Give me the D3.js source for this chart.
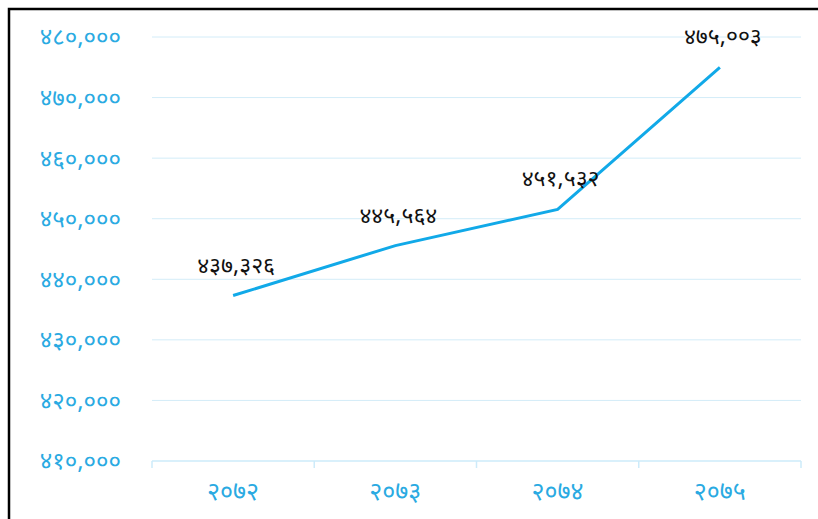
<!DOCTYPE html>
<html><head><meta charset="utf-8">
<script src="https://cdn.jsdelivr.net/npm/d3@7"></script>
<style>
html,body{margin:0;padding:0;background:#fff;}
svg{display:block;font-family:"Noto Sans","Noto Sans Devanagari",sans-serif;}
</style></head>
<body>
<svg id="chart" width="818" height="519"></svg>
<script>
const years = [2072, 2073, 2074, 2075];
const values = [437326, 445564, 451532, 475003];
const yTicks = [410000, 420000, 430000, 440000, 450000, 460000, 470000, 480000];

const devDigits = "०१२३४५६७८९";
const toDev = s => String(s).replace(/[0-9]/g, d => devDigits[+d]);
const fmt = d3.format(",");

const svg = d3.select("#chart");
const W = 818, H = 519;
const m = {left: 152, right: 17, top: 37, bottom: 58};

svg.append("rect").attr("x", 9).attr("y", 9).attr("width", 830).attr("height", 530)
  .attr("fill", "none").attr("stroke", "#000").attr("stroke-width", 2.5);

const x = d3.scaleBand().domain(years).range([m.left, W - m.right]);
const y = d3.scaleLinear().domain([410000, 480000]).range([H - m.bottom, m.top]);

// gridlines
svg.append("g").selectAll("line").data(yTicks.slice(1)).join("line")
  .attr("x1", m.left).attr("x2", W - m.right)
  .attr("y1", d => y(d)).attr("y2", d => y(d))
  .attr("stroke", "#d3ecf8").attr("stroke-width", 1);

// y labels
svg.append("g").selectAll("text").data(yTicks).join("text")
  .attr("x", 121).attr("y", d => y(d)).attr("dy", "0.35em")
  .attr("text-anchor", "end").attr("fill", "#2aaae2").attr("font-size", 24)
  .text(d => toDev(fmt(d)));

// x axis
const xAxisY = y(410000);
const gx = svg.append("g");
gx.append("line").attr("x1", m.left).attr("x2", W - m.right)
  .attr("y1", xAxisY).attr("y2", xAxisY).attr("stroke", "#cdebfa").attr("stroke-width", 1.5);
const bounds = years.map(d => x(d)).concat([x(years[years.length - 1]) + x.bandwidth()]);
gx.selectAll("line.tk").data(bounds).join("line").attr("class", "tk")
  .attr("x1", d => d).attr("x2", d => d).attr("y1", xAxisY).attr("y2", xAxisY + 7)
  .attr("stroke", "#cdebfa").attr("stroke-width", 1.5);
gx.selectAll("text").data(years).join("text")
  .attr("x", d => x(d) + x.bandwidth() / 2).attr("y", xAxisY + 30).attr("dy", "0.35em")
  .attr("text-anchor", "middle").attr("fill", "#2aaae2").attr("font-size", 25)
  .text(d => toDev(d));

// line
const pts = years.map((d, i) => [x(d) + x.bandwidth() / 2, y(values[i])]);
svg.append("path").attr("d", d3.line()(pts)).attr("fill", "none")
  .attr("stroke", "#11a9e8").attr("stroke-width", 3);

// labels
svg.append("g").selectAll("text").data(values).join("text")
  .attr("x", (d, i) => pts[i][0] + 3).attr("y", (d, i) => pts[i][1] - 31).attr("dy", "0.35em")
  .attr("text-anchor", "middle").attr("fill", "#111").attr("font-size", 23)
  .text(d => toDev(fmt(d)));
</script>
</body></html>
